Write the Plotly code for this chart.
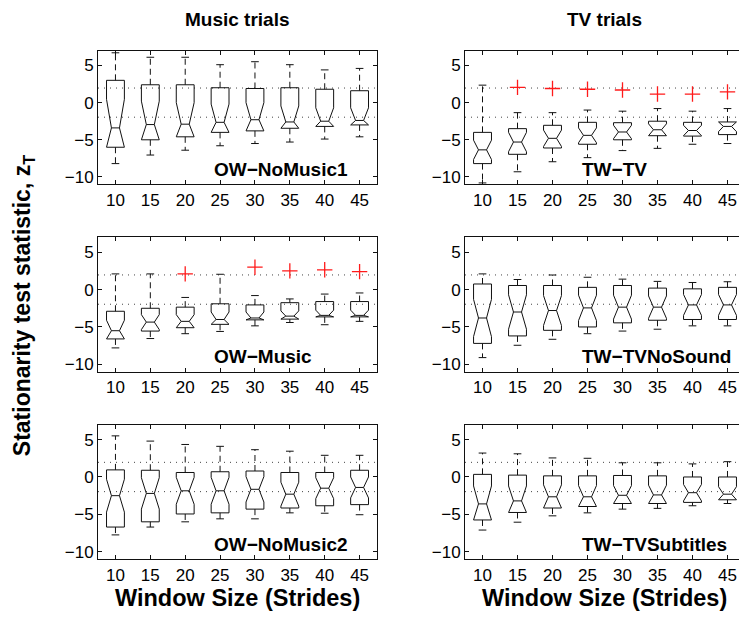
import plotly.graph_objects as go
from plotly.subplots import make_subplots

window = [10, 15, 20, 25, 30, 35, 40, 45]
y_ticks = [-10, -5, 0, 5]
crit = 1.96  # dotted reference lines at +/- 1.96

# OW-NoMusic1
nm1_hi = [6.7, 6.1, 6.1, 5.1, 5.5, 5.1, 4.4, 4.6]
nm1_q3 = [3.0, 2.4, 2.4, 2.0, 1.9, 2.0, 1.8, 1.6]
nm1_med = [-3.4, -2.95, -2.9, -2.65, -2.3, -2.6, -2.5, -2.4]
nm1_q1 = [-6.0, -5.0, -4.6, -4.0, -3.8, -3.45, -3.2, -3.0]
nm1_lo = [-8.2, -7.05, -6.4, -5.8, -5.5, -5.3, -4.9, -4.6]
nm1_notch = [3.85, 3.15, 2.9, 2.45, 2.3, 2.15, 1.8, 1.7]
nm1_out_x = []
nm1_out_y = []

# TW-TV
tv_hi = [2.35, -1.35, -1.35, -1.0, -1.15, -0.8, -1.15, -0.8]
tv_q3 = [-4.0, -3.5, -3.05, -2.65, -2.7, -2.5, -2.65, -2.6]
tv_med = [-6.35, -5.3, -4.8, -4.4, -3.95, -3.65, -3.75, -3.2]
tv_q1 = [-8.2, -6.95, -6.1, -5.6, -5.0, -4.45, -4.5, -4.3]
tv_lo = [-10.8, -9.3, -7.95, -7.4, -6.45, -6.15, -5.6, -5.5]
tv_notch = [1.3, 1.3, 1.1, 1.0, 0.9, 0.8, 0.7, 0.7]
tv_out_x = [15, 20, 25, 30, 35, 40, 45]
tv_out_y = [2.05, 1.9, 1.8, 1.7, 1.15, 1.15, 1.45]

# OW-Music
mu_hi = [2.1, 2.1, -1.05, 2.05, -0.8, -1.25, -0.6, -0.45]
mu_q3 = [-2.9, -2.5, -2.35, -1.9, -2.05, -1.75, -1.6, -1.6]
mu_med = [-5.5, -4.35, -4.25, -4.0, -3.8, -3.55, -3.45, -3.45]
mu_q1 = [-6.6, -5.55, -5.1, -4.65, -4.05, -3.95, -3.65, -3.65]
mu_lo = [-7.8, -6.55, -5.9, -5.6, -4.85, -4.4, -4.7, -4.25]
mu_notch = [1.4, 1.0, 0.9, 1.0, 0.8, 0.7, 0.7, 0.7]
mu_out_x = [20, 30, 35, 40, 45]
mu_out_y = [2.1, 3.0, 2.5, 2.65, 2.4]

# TW-TVNoSound
ns_hi = [2.1, 1.35, 1.95, 1.65, 1.4, 1.1, 0.95, 1.05]
ns_q3 = [0.75, 0.55, 0.55, 0.3, 0.55, 0.2, 0.1, 0.3]
ns_med = [-3.8, -3.0, -2.8, -2.45, -2.35, -2.35, -2.05, -2.05]
ns_q1 = [-7.2, -6.2, -5.45, -5.0, -4.45, -4.1, -4.0, -4.0]
ns_lo = [-9.1, -7.45, -6.65, -5.9, -5.55, -5.3, -4.85, -4.85]
ns_notch = [2.5, 2.3, 2.0, 1.7, 1.6, 1.5, 1.4, 1.4]
ns_out_x = []
ns_out_y = []

# OW-NoMusic2
nm2_hi = [5.5, 4.8, 4.35, 4.1, 3.65, 3.45, 2.9, 2.9]
nm2_q3 = [0.95, 0.9, 0.6, 0.7, 0.8, 0.6, 0.6, 0.9]
nm2_med = [-2.5, -2.2, -1.85, -1.85, -1.65, -2.3, -1.5, -1.4]
nm2_q1 = [-6.7, -6.0, -4.95, -4.8, -4.3, -4.15, -3.85, -3.7]
nm2_lo = [-7.75, -6.7, -6.0, -5.6, -5.6, -4.8, -4.85, -5.05]
nm2_notch = [2.2, 2.1, 1.8, 1.8, 1.7, 1.6, 1.4, 1.4]
nm2_out_x = []
nm2_out_y = []

# TW-TVSubtitles
st_hi = [3.2, 3.1, 2.55, 2.5, 1.9, 1.9, 1.75, 2.05]
st_q3 = [0.35, 0.25, 0.15, 0.15, 0.2, 0.15, 0.0, 0.0]
st_med = [-3.6, -3.2, -2.65, -2.65, -2.45, -2.4, -2.1, -2.3]
st_q1 = [-5.75, -4.75, -4.15, -3.95, -3.55, -3.55, -3.4, -3.05]
st_lo = [-7.1, -6.05, -5.2, -4.8, -4.3, -4.2, -3.85, -3.55]
st_notch = [2.4, 2.0, 1.6, 1.5, 1.3, 1.3, 1.1, 1.0]
st_out_x = []
st_out_y = []

panels = [
    ("OW\u2212NoMusic1", 1, 1, nm1_hi, nm1_q3, nm1_med, nm1_q1, nm1_lo, nm1_notch, nm1_out_x, nm1_out_y),
    ("TW\u2212TV", 1, 2, tv_hi, tv_q3, tv_med, tv_q1, tv_lo, tv_notch, tv_out_x, tv_out_y),
    ("OW\u2212Music", 2, 1, mu_hi, mu_q3, mu_med, mu_q1, mu_lo, mu_notch, mu_out_x, mu_out_y),
    ("TW\u2212TVNoSound", 2, 2, ns_hi, ns_q3, ns_med, ns_q1, ns_lo, ns_notch, ns_out_x, ns_out_y),
    ("OW\u2212NoMusic2", 3, 1, nm2_hi, nm2_q3, nm2_med, nm2_q1, nm2_lo, nm2_notch, nm2_out_x, nm2_out_y),
    ("TW\u2212TVSubtitles", 3, 2, st_hi, st_q3, st_med, st_q1, st_lo, st_notch, st_out_x, st_out_y),
]

FONT = "Liberation Sans, Arial, sans-serif"
INK = "#111111"
HALF = 1.28      # box half width (x units)
NARROW = 0.45    # notch waist relative to box width
CAP = 0.55       # whisker cap half width


def notched_boxes(hi, q3, med, q1, lo, notch):
    """MATLAB-style notched boxes; notches are clipped to the box."""
    bx, by, wx, wy, cx, cy = [], [], [], [], [], []
    for x, h, a, m, b, l, n in zip(window, hi, q3, med, q1, lo, notch):
        un, ln = min(a, m + n), max(b, m - n)
        L, R = x - HALF, x + HALF
        nl, nr = x - HALF * NARROW, x + HALF * NARROW
        bx += [L, L, nl, L, L, R, R, nr, R, R, L, None, nl, nr, None]
        by += [b, ln, m, un, a, a, un, m, ln, b, b, None, m, m, None]
        wx += [x, x, None, x, x, None]
        wy += [a, h, None, b, l, None]
        cx += [x - CAP, x + CAP, None, x - CAP, x + CAP, None]
        cy += [h, h, None, l, l, None]
    return bx, by, wx, wy, cx, cy


fig = make_subplots(rows=3, cols=2)

for name, r, c, hi, q3, med, q1, lo, notch, ox, oy in panels:
    for v in (crit, -crit):
        fig.add_trace(go.Scatter(x=[7.5, 47.5], y=[v, v], mode="lines", showlegend=False,
                                 hoverinfo="skip", line=dict(color="#444444", width=1, dash="1px,5px")),
                      row=r, col=c)
    bx, by, wx, wy, cx, cy = notched_boxes(hi, q3, med, q1, lo, notch)
    fig.add_trace(go.Scatter(x=wx, y=wy, mode="lines", showlegend=False, hoverinfo="skip",
                             line=dict(color=INK, width=1, dash="6px,4px")), row=r, col=c)
    fig.add_trace(go.Scatter(x=cx, y=cy, mode="lines", showlegend=False, hoverinfo="skip",
                             line=dict(color=INK, width=1)), row=r, col=c)
    fig.add_trace(go.Scatter(x=bx, y=by, mode="lines", showlegend=False, hoverinfo="skip",
                             line=dict(color=INK, width=1)), row=r, col=c)
    if ox:
        fig.add_trace(go.Scatter(
            x=ox, y=oy, mode="markers", showlegend=False,
            marker=dict(symbol="cross-thin", size=11, line=dict(color="#ff1a1a", width=1.3))),
            row=r, col=c)
    fig.add_annotation(text="<b>%s</b>" % name, xref="x domain", yref="y", x=0.41, y=-9.0,
                       xanchor="left", yanchor="middle", showarrow=False,
                       font=dict(family=FONT, size=19, color="black"), row=r, col=c)

x_domains = {1: [0.1205, 0.494], 2: [0.6118, 0.9866]}
y_domains = {1: [0.7136, 0.9309], 2: [0.4094, 0.6278], 3: [0.1052, 0.3236]}
for r in (1, 2, 3):
    for c in (1, 2):
        fig.update_xaxes(domain=x_domains[c], range=[7.5, 47.5], tickvals=window,
                         ticks="inside", ticklen=4, tickcolor=INK, showline=True, linecolor=INK,
                         linewidth=1, mirror="ticks", showgrid=False, zeroline=False,
                         tickfont=dict(family=FONT, size=17, color="black"), row=r, col=c)
        fig.update_yaxes(domain=y_domains[r], range=[-11, 7], tickvals=y_ticks,
                         ticks="inside", ticklen=4, tickcolor=INK, showline=True, linecolor=INK,
                         linewidth=1, mirror="ticks", showgrid=False, zeroline=False,
                         tickfont=dict(family=FONT, size=17, color="black"), row=r, col=c)

for txt, xc in (("Music trials", 0.307), ("TV trials", 0.799)):
    fig.add_annotation(text="<b>%s</b>" % txt, xref="paper", yref="paper", x=xc, y=0.982,
                       showarrow=False, xanchor="center", yanchor="middle",
                       font=dict(family=FONT, size=19, color="black"))
    fig.add_annotation(text="<b>Window Size (Strides)</b>", xref="paper", yref="paper", x=xc,
                       y=0.043, showarrow=False, xanchor="center", yanchor="middle",
                       font=dict(family=FONT, size=23.5, color="black"))

fig.add_annotation(text="<b>Stationarity test statistic, z<sub>T</sub></b>", xref="paper",
                   yref="paper", x=0.021, y=0.517, textangle=-90, showarrow=False,
                   xanchor="center", yanchor="middle",
                   font=dict(family=FONT, size=23, color="black"))

fig.update_layout(width=747, height=618, margin=dict(l=0, r=0, t=0, b=0),
                  paper_bgcolor="white", plot_bgcolor="white")

fig.write_html("out.html")
